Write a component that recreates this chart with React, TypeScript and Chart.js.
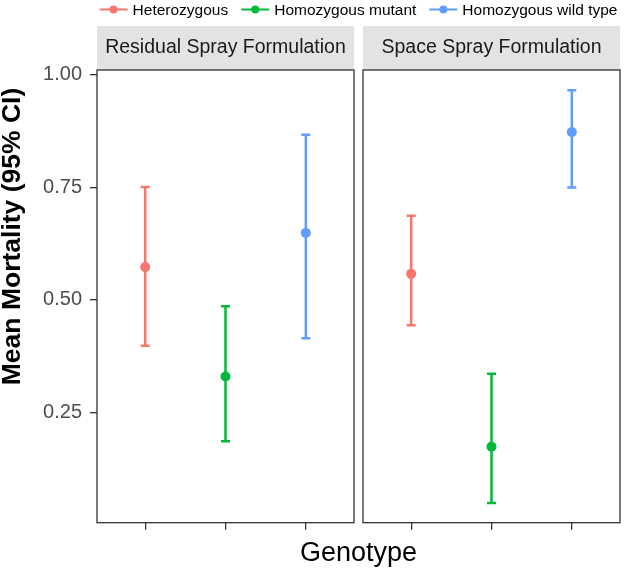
import React, { useEffect, useRef } from "react";
import { Chart, registerables } from "chart.js";

Chart.register(...registerables);

// ---- data ----
const genotypes = ["Heterozygous", "Homozygous mutant", "Homozygous wild type"];
const formulations = ["Residual Spray Formulation", "Space Spray Formulation"];
const genotypeColors = ["#F8766D", "#00BA38", "#619CFF"];

const residualMean = [0.573, 0.33, 0.649];
const residualLower = [0.398, 0.186, 0.415];
const residualUpper = [0.751, 0.486, 0.867];

const spaceMean = [0.558, 0.174, 0.873];
const spaceLower = [0.444, 0.049, 0.75];
const spaceUpper = [0.687, 0.336, 0.966];

const yTicks = [0.25, 0.5, 0.75, 1.0];
const yTitle = "Mean Mortality (95% CI)";
const xTitle = "Genotype";

const means = [residualMean, spaceMean];
const lowers = [residualLower, spaceLower];
const uppers = [residualUpper, spaceUpper];

// ---- layout constants ----
const W = 625;
const H = 570;
const FONT = '"Liberation Sans", Arial, Helvetica, sans-serif';
const PANEL_SPAN = 3.2; // 3 categories + 0.6 expansion each side
const GAP_UNITS = 0.112;
const PANEL_SHIFT = PANEL_SPAN + GAP_UNITS;
const X_MIN = 0.4;
const X_MAX = X_MIN + PANEL_SHIFT + PANEL_SPAN;

const posOf = (panel: number, cat: number) => cat + 1 + panel * PANEL_SHIFT;

const facetPlugin = {
  id: "facets",
  beforeDatasetsDraw(chart: any) {
    const { ctx, chartArea, scales } = chart;
    const xs = scales.x;
    const ys = scales.y;
    // strips
    formulations.forEach((name, p) => {
      const l = xs.getPixelForValue(X_MIN + p * PANEL_SHIFT);
      const r = xs.getPixelForValue(X_MIN + PANEL_SPAN + p * PANEL_SHIFT);
      ctx.save();
      ctx.fillStyle = "#e3e3e3";
      ctx.fillRect(l, chartArea.top - 44, r - l, 44);
      ctx.fillStyle = "#1a1a1a";
      ctx.font = `19.5px ${FONT}`;
      ctx.textAlign = "center";
      ctx.textBaseline = "alphabetic";
      ctx.fillText(name, (l + r) / 2, chartArea.top - 17.5);
      ctx.restore();
    });
    // error bars
    genotypes.forEach((g, i) => {
      ctx.save();
      ctx.strokeStyle = genotypeColors[i];
      ctx.lineWidth = 2.5;
      for (let p = 0; p < formulations.length; p++) {
        const x = xs.getPixelForValue(posOf(p, i));
        const y1 = ys.getPixelForValue(lowers[p][i]);
        const y2 = ys.getPixelForValue(uppers[p][i]);
        ctx.beginPath();
        ctx.moveTo(x, y1);
        ctx.lineTo(x, y2);
        ctx.moveTo(x - 4.5, y1);
        ctx.lineTo(x + 4.5, y1);
        ctx.moveTo(x - 4.5, y2);
        ctx.lineTo(x + 4.5, y2);
        ctx.stroke();
      }
      ctx.restore();
    });
  },
  afterDatasetsDraw(chart: any) {
    const { ctx, chartArea, scales } = chart;
    const xs = scales.x;
    // panel borders
    formulations.forEach((_, p) => {
      const l = xs.getPixelForValue(X_MIN + p * PANEL_SHIFT);
      const r = xs.getPixelForValue(X_MIN + PANEL_SPAN + p * PANEL_SHIFT);
      ctx.save();
      ctx.strokeStyle = "#333333";
      ctx.lineWidth = 1.3;
      ctx.strokeRect(l, chartArea.top, r - l, chartArea.bottom - chartArea.top);
      ctx.restore();
    });
    // y title
    ctx.save();
    ctx.translate(12.5, 236.5);
    ctx.rotate(-Math.PI / 2);
    ctx.font = `bold 26.5px ${FONT}`;
    ctx.fillStyle = "#000";
    ctx.textAlign = "center";
    ctx.textBaseline = "middle";
    ctx.fillText(yTitle, 0, 0);
    ctx.restore();
    // legend
    ctx.save();
    ctx.font = `15.5px ${FONT}`;
    const markerW = 28;
    const gapAfterMarker = 5;
    const spacing = 13;
    const widths = genotypes.map((g) => ctx.measureText(g).width);
    const total =
      widths.reduce((a, b) => a + b, 0) +
      genotypes.length * (markerW + gapAfterMarker) +
      (genotypes.length - 1) * spacing;
    const center = (chartArea.left + chartArea.right) / 2;
    let x = center - total / 2;
    const ym = 9.5;
    genotypes.forEach((g, i) => {
      ctx.strokeStyle = genotypeColors[i];
      ctx.fillStyle = genotypeColors[i];
      ctx.lineWidth = 2;
      ctx.beginPath();
      ctx.moveTo(x, ym);
      ctx.lineTo(x + markerW, ym);
      ctx.stroke();
      ctx.beginPath();
      ctx.arc(x + markerW / 2, ym, 4, 0, Math.PI * 2);
      ctx.fill();
      x += markerW + gapAfterMarker;
      ctx.fillStyle = "#000";
      ctx.textAlign = "left";
      ctx.textBaseline = "alphabetic";
      ctx.fillText(g, x, 14.8);
      x += widths[i] + spacing;
    });
    ctx.restore();
  },
};

export default function App() {
  const canvasRef = useRef<HTMLCanvasElement | null>(null);

  useEffect(() => {
    if (!canvasRef.current) return;
    Chart.defaults.font.family = FONT;
    const datasets = genotypes.map((g, i) => ({
      label: g,
      data: formulations.map((_, p) => ({ x: posOf(p, i), y: means[p][i] })),
      backgroundColor: genotypeColors[i],
      borderColor: genotypeColors[i],
      pointRadius: 5,
      pointBorderWidth: 0,
      showLine: false,
    }));
    const catPositions: number[] = [];
    formulations.forEach((_, p) => genotypes.forEach((__, i) => catPositions.push(posOf(p, i))));

    const chart = new Chart(canvasRef.current, {
      type: "scatter",
      data: { datasets },
      options: {
        animation: false,
        responsive: false,
        devicePixelRatio: 1,
        layout: { padding: { left: 0, right: 3, top: 70, bottom: 0 } },
        plugins: {
          legend: { display: false },
          tooltip: { enabled: false },
          title: { display: false },
        },
        scales: {
          x: {
            type: "linear",
            min: X_MIN,
            max: X_MAX,
            afterBuildTicks: (scale: any) => {
              scale.ticks = catPositions.map((v) => ({ value: v }));
            },
            afterFit: (scale: any) => {
              scale.height = 47.3;
            },
            ticks: { autoSkip: false, callback: () => "", padding: 0, font: { size: 1 } },
            grid: { drawOnChartArea: false, drawTicks: true, tickLength: 7, color: "#333333", lineWidth: 1.3 },
            border: { display: false },
            title: {
              display: true,
              text: xTitle,
              color: "#000",
              font: { size: 27, family: FONT },
              padding: { top: 0, bottom: 0 },
            },
          },
          y: {
            type: "linear",
            min: 0.005,
            max: 1.011,
            afterBuildTicks: (scale: any) => {
              scale.ticks = yTicks.map((v) => ({ value: v }));
            },
            afterFit: (scale: any) => {
              scale.width = 97;
            },
            ticks: {
              autoSkip: false,
              padding: 8,
              color: "#4d4d4d",
              font: { size: 20, family: FONT },
              callback: (v: any) => Number(v).toFixed(2),
            },
            grid: { drawOnChartArea: false, drawTicks: true, tickLength: 7, color: "#333333", lineWidth: 1.3 },
            border: { display: false },
          },
        },
      },
      plugins: [facetPlugin],
    });
    return () => chart.destroy();
  }, []);

  return (
    <div style={{ position: "absolute", left: 0, top: 0, width: W, height: H, background: "#fff" }}>
      <canvas ref={canvasRef} width={W} height={H} style={{ width: W, height: H, display: "block" }} />
    </div>
  );
}
